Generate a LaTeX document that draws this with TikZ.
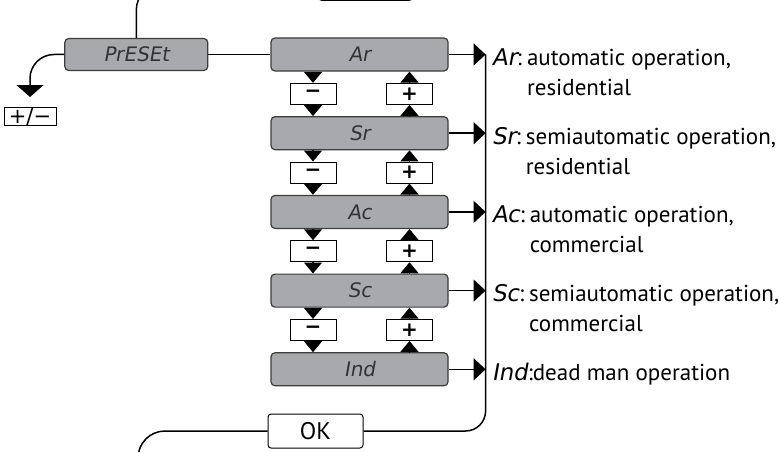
\documentclass[tikz,border=0pt]{standalone}
\usepackage{fontspec}
\setmainfont{PT Sans}
\newfontfamily\lcd{DejaVu Sans}[FakeSlant=0.18]
\newfontfamily\keyfont{DejaVu Sans}
\usetikzlibrary{
arrows.meta,
positioning,
calc
}

\definecolor{dispgray}{HTML}{A7A9AC}
\definecolor{dispedge}{HTML}{3C3C3C}

\begin{document}
\begin{tikzpicture}[
x=1pt,y=1pt,
node distance=44.5pt,
disp/.style={
draw=dispedge,
fill=dispgray,
line width=1.2pt,
rounded corners=4pt,
minimum width=177pt,
minimum height=33pt,
font=\lcd\fontsize{20}{20}\selectfont,
text=black!80
},
key/.style={
draw,
fill=white,
line width=1pt,
minimum width=46pt,
minimum height=21pt,
inner sep=0pt,
font=\keyfont\bfseries\fontsize{20}{20}\selectfont
},
okbox/.style={
draw,
line width=1pt,
rounded corners=3pt,
minimum width=95pt,
minimum height=34pt,
font=\fontsize{24}{24}\selectfont
},
tri/.style={-{Triangle[length=11pt,width=18pt]},line width=1.2pt},
wire/.style={line width=1.5pt},
conn/.style={-{Triangle[length=12pt,width=22pt]},line width=1.5pt},
desc/.style={anchor=base west,inner sep=0pt,font=\fontsize{23}{30}\selectfont}
]

\useasboundingbox (0,0) rectangle (779,451);
\clip (0,0) rectangle (779,451);

\node[disp] (Ar) at (359.5,396.5) {Ar};
\node[disp,below=of Ar] (Sr) {Sr};
\node[disp,below=of Sr] (Ac) {Ac};
\node[disp,below=of Ac] (Sc) {Sc};
\node[disp,below=of Sc] (Ind) {Ind};

\node[disp,minimum width=143pt,minimum height=32pt,left=62pt of Ar] (pre) {PrESEt};

\node[key,minimum width=52pt,minimum height=18pt,font=\keyfont\fontsize{21}{21}\selectfont] (pm) at (30,334.5) {+/−};

\node[key] (m1) at ($(Ar.south)!.5!(Sr.north)+(-46.5,0)$) {−};
\node[key] (p1) at ($(Ar.south)!.5!(Sr.north)+(50,0)$) {+};
\node[key] (m2) at ($(Sr.south)!.5!(Ac.north)+(-46.5,0)$) {−};
\node[key] (p2) at ($(Sr.south)!.5!(Ac.north)+(50,0)$) {+};
\node[key] (m3) at ($(Ac.south)!.5!(Sc.north)+(-46.5,0)$) {−};
\node[key] (p3) at ($(Ac.south)!.5!(Sc.north)+(50,0)$) {+};
\node[key] (m4) at ($(Sc.south)!.5!(Ind.north)+(-46.5,0)$) {−};
\node[key] (p4) at ($(Sc.south)!.5!(Ind.north)+(50,0)$) {+};

\node[okbox] (ok) at (315.5,20) {OK};
\node[okbox,minimum width=93pt] (topkey) at (365.5,467.5) {};

\coordinate[right=37pt of Ar.east] (rail);
\coordinate (outtl) at (230,466);
\coordinate (outbl) at (138,-20);

\draw[tri] (m1.north |- Ar.south) -- (m1.north);
\draw[tri] (m1.south) -- (m1.south |- Sr.north);
\draw[tri] (p1.south |- Sr.north) -- (p1.south);
\draw[tri] (p1.north) -- (p1.north |- Ar.south);
\draw[tri] (m2.north |- Sr.south) -- (m2.north);
\draw[tri] (m2.south) -- (m2.south |- Ac.north);
\draw[tri] (p2.south |- Ac.north) -- (p2.south);
\draw[tri] (p2.north) -- (p2.north |- Sr.south);
\draw[tri] (m3.north |- Ac.south) -- (m3.north);
\draw[tri] (m3.south) -- (m3.south |- Sc.north);
\draw[tri] (p3.south |- Sc.north) -- (p3.south);
\draw[tri] (p3.north) -- (p3.north |- Ac.south);
\draw[tri] (m4.north |- Sc.south) -- (m4.north);
\draw[tri] (m4.south) -- (m4.south |- Ind.north);
\draw[tri] (p4.south |- Ind.north) -- (p4.south);
\draw[tri] (p4.north) -- (p4.north |- Sc.south);

\draw[wire] (pre) -- (Ar);
\draw[wire,rounded corners=25pt] (pre) |- (outtl);
\draw[wire,-{Triangle[length=12pt,width=27pt]},rounded corners=24pt,shorten >=10pt] (pre) -| (pm);

\draw[conn] (Ar) -- (rail);
\draw[conn] (Sr) -- (Sr -| rail);
\draw[conn] (Ac) -- (Ac -| rail);
\draw[conn] (Sc) -- (Sc -| rail);
\draw[conn] (Ind) -- (Ind -| rail);
\draw[wire,rounded corners=20pt] (rail) |- (ok);
\draw[wire,rounded corners=27pt] (ok) -| (outbl);

\node[desc] (dAr) at ([xshift=6pt,yshift=-11pt]Ar -| rail) {\begin{tabular}[t]{@{}l@{\hspace{5pt}}l@{}}{\lcd Ar}: & automatic operation,\\ & residential\end{tabular}};
\node[desc] (dSr) at ([xshift=6pt,yshift=-11pt]Sr -| rail) {\begin{tabular}[t]{@{}l@{\hspace{5pt}}l@{}}{\lcd Sr}: & semiautomatic operation,\\ & residential\end{tabular}};
\node[desc] (dAc) at ([xshift=6pt,yshift=-11pt]Ac -| rail) {\begin{tabular}[t]{@{}l@{\hspace{5pt}}l@{}}{\lcd Ac}: & automatic operation,\\ & commercial\end{tabular}};
\node[desc] (dSc) at ([xshift=6pt,yshift=-11pt]Sc -| rail) {\begin{tabular}[t]{@{}l@{\hspace{5pt}}l@{}}{\lcd Sc}: & semiautomatic operation,\\ & commercial\end{tabular}};
\node[desc] (dInd) at ([xshift=6pt,yshift=-11pt]Ind -| rail) {{\lcd Ind}:dead man operation};

\end{tikzpicture}
\end{document}
